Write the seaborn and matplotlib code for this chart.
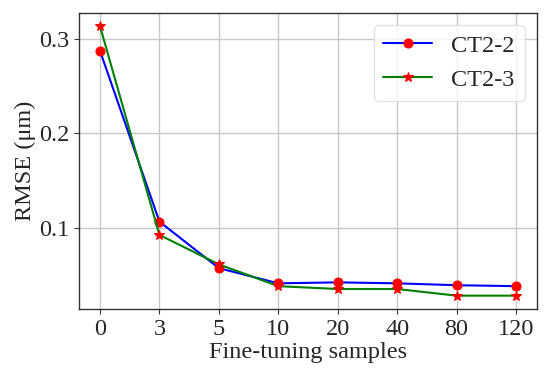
import seaborn as sns
import matplotlib.pyplot as plt

# dados
samples = ['0', '3', '5', '10', '20', '40', '80', '120']
rmse_ct2_2 = [0.287, 0.107, 0.058, 0.042, 0.043, 0.042, 0.040, 0.039]
rmse_ct2_3 = [0.313, 0.093, 0.062, 0.039, 0.036, 0.036, 0.029, 0.029]

sns.set_style("ticks")
plt.rcParams['font.family'] = ['Liberation Serif', 'DejaVu Serif']

fig, ax = plt.subplots(figsize=(5.5, 3.8), dpi=100)
fig.subplots_adjust(left=0.144, right=0.976, top=0.966, bottom=0.187)

pos = list(range(len(samples)))
sns.lineplot(x=pos, y=rmse_ct2_2, ax=ax, color='blue', lw=1.5, marker='o',
             markersize=6.5, markerfacecolor='red', markeredgecolor='red',
             label='CT2-2')
sns.lineplot(x=pos, y=rmse_ct2_3, ax=ax, color='green', lw=1.5, marker='*',
             markersize=7, markerfacecolor='red', markeredgecolor='red',
             label='CT2-3')

ax.set_xticks(pos)
ax.set_xticklabels(samples)
ax.set_yticks([0.1, 0.2, 0.3])
ax.set_xlim(-0.35, 7.35)
ax.set_ylim(0.015, 0.327)
ax.grid(True, color='#c8c8c8', lw=1)
ax.set_axisbelow(True)
for s in ax.spines.values():
    s.set_color('#333333')
    s.set_linewidth(1)

ax.set_xlabel('Fine-tuning samples', fontsize=17.5, labelpad=2)
ax.set_ylabel('RMSE (μm)', fontsize=17.5, labelpad=2)
ax.tick_params(labelsize=17.5, color='#333333', length=3.5)
ax.legend(loc='upper right', fontsize=17.5, framealpha=0.8, edgecolor='#dddddd')

plt.savefig('out.png', dpi=100)
